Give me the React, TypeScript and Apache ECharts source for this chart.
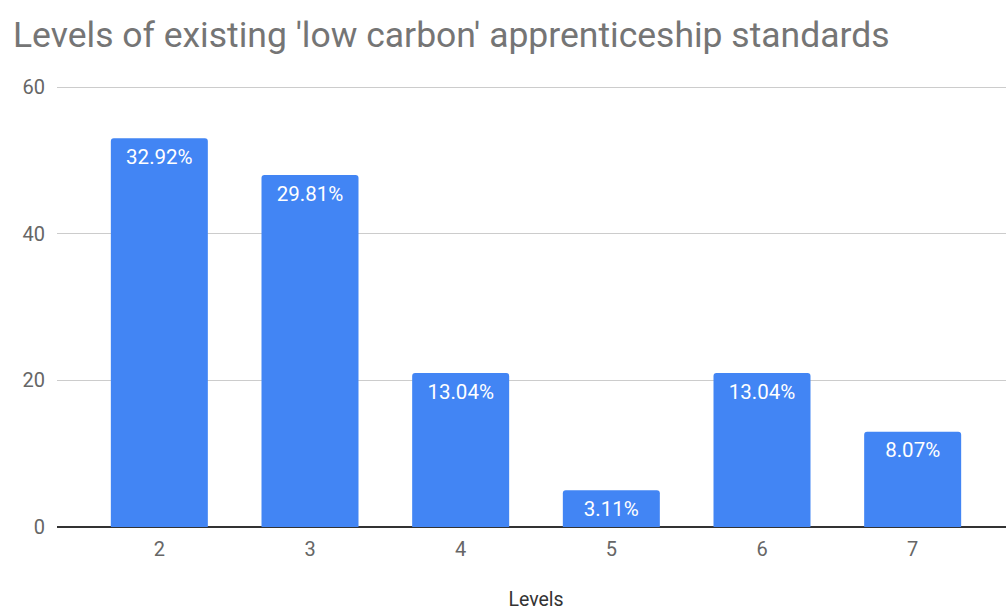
import React, { useEffect, useRef } from "react";
import * as echarts from "echarts";

// Number of 'low carbon' apprenticeship standards at each level
const levels = ["2", "3", "4", "5", "6", "7"];
const counts = [53, 48, 21, 5, 21, 13];
const yTicks = [0, 20, 40, 60];

const titleText = "Levels of existing 'low carbon' apprenticeship standards";
const xAxisName = "Levels";

const total = counts.reduce((a, b) => a + b, 0);

export default function App() {
  const ref = useRef<HTMLDivElement>(null);

  useEffect(() => {
    if (!ref.current) return;
    const chart = echarts.init(ref.current, null, { renderer: "svg" });
    const font = "Roboto, 'Noto Sans', Arial, sans-serif";
    const yMin = yTicks[0];
    const yMax = yTicks[yTicks.length - 1];
    const yInterval = yTicks[1] - yTicks[0];

    chart.setOption({
      animation: false,
      backgroundColor: "#ffffff",
      title: {
        text: titleText,
        left: 8,
        top: 12,
        textStyle: {
          fontFamily: font,
          fontSize: 35.5,
          fontWeight: "normal",
          color: "#757575",
        },
      },
      grid: [
        // grid for the gridlines and y labels (spans full width)
        { left: 57, right: 0, top: 87, bottom: 83, containLabel: false, outerBoundsMode: "none" },
        // grid for the bars
        { left: 84, right: 18, top: 87, bottom: 83, containLabel: false, outerBoundsMode: "none" },
      ],
      xAxis: [
        {
          gridIndex: 0,
          type: "value",
          min: 0,
          max: 1,
          show: false,
        },
        {
          gridIndex: 1,
          type: "category",
          data: levels,
          name: xAxisName,
          nameLocation: "middle",
          nameGap: 64,
          nameTextStyle: {
            fontFamily: font,
            fontSize: 19.5,
            lineHeight: 16,
            color: "#333333",
          },
          axisLine: { show: false },
          axisTick: { show: false },
          axisLabel: {
            fontFamily: font,
            fontSize: 20,
            color: "#666666",
            margin: 12,
          },
        },
      ],
      yAxis: [
        {
          gridIndex: 0,
          type: "value",
          min: yMin,
          max: yMax,
          interval: yInterval,
          axisLine: { show: false },
          axisTick: { show: false },
          axisLabel: {
            fontFamily: font,
            fontSize: 20,
            color: "#666666",
            margin: 12,
          },
          splitLine: { lineStyle: { color: "#cccccc", width: 1 } },
        },
        {
          gridIndex: 1,
          type: "value",
          min: yMin,
          max: yMax,
          interval: yInterval,
          show: false,
        },
      ],
      series: [
        // baseline along zero, spanning the full gridline width
        {
          type: "line",
          xAxisIndex: 0,
          yAxisIndex: 0,
          data: [
            [0, 0],
            [1, 0],
          ],
          symbol: "none",
          lineStyle: { color: "#333333", width: 2 },
          silent: true,
          z: 1,
        },
        {
          type: "bar",
          xAxisIndex: 1,
          yAxisIndex: 1,
          data: counts,
          barWidth: 97,
          itemStyle: { color: "#4285F4", borderRadius: [3, 3, 0, 0] },
          label: {
            show: true,
            position: "insideTop",
            distance: 8,
            fontFamily: font,
            fontSize: 20.5,
            color: "#ffffff",
            formatter: (p: any) => ((p.value / total) * 100).toFixed(2) + "%",
          },
          z: 3,
        },
      ],
    });

    return () => chart.dispose();
  }, []);

  return (
    <div
      ref={ref}
      style={{ position: "fixed", left: 0, top: 0, width: 1006, height: 610 }}
    />
  );
}
